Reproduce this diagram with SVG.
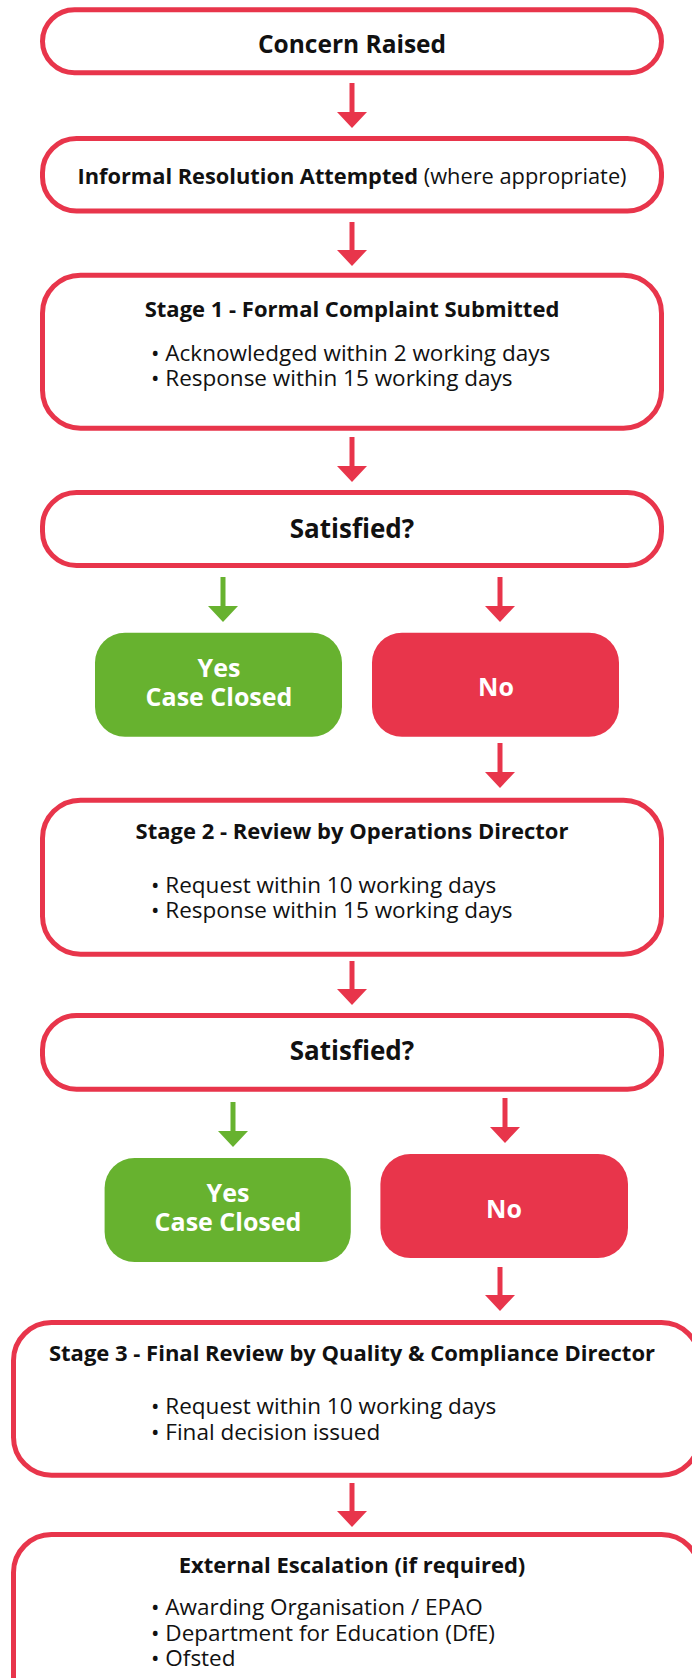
<svg xmlns="http://www.w3.org/2000/svg" width="692" height="1678" viewBox="0 0 692 1678">
<defs>
<style>
.box{fill:#fff;stroke:#E8354B;stroke-width:5}
.yes{fill:#67B22F}
.no{fill:#E8354B}
text{font-family:"Open Sans","Noto Sans",sans-serif;fill:#111}
.t{font-weight:700;font-size:22px;text-anchor:middle}
.s{font-weight:700;font-size:26px;text-anchor:middle}
.b{font-size:22.5px}
.w{fill:#fff;font-weight:700;font-size:25px;text-anchor:middle}
.cr{stroke:#E8354B;stroke-width:5}
.cg{stroke:#67B22F;stroke-width:5}
.hr{fill:#E8354B}
.hg{fill:#67B22F}
</style>
</defs>
<rect width="692" height="1678" fill="#fff"/>
<g id="connectors">
<line class="cr" x1="352" y1="83" x2="352" y2="114"/><polygon class="hr" points="337,112 367,112 352,128"/>
<line class="cr" x1="352" y1="222" x2="352" y2="252"/><polygon class="hr" points="337,250 367,250 352,266"/>
<line class="cr" x1="352" y1="437" x2="352" y2="468"/><polygon class="hr" points="337,466 367,466 352,482"/>
<line class="cg" x1="223" y1="577" x2="223" y2="608"/><polygon class="hg" points="208,606 238,606 223,622"/>
<line class="cr" x1="500" y1="577" x2="500" y2="608"/><polygon class="hr" points="485,606 515,606 500,622"/>
<line class="cr" x1="500" y1="743" x2="500" y2="774"/><polygon class="hr" points="485,772 515,772 500,788"/>
<line class="cr" x1="352" y1="961" x2="352" y2="991"/><polygon class="hr" points="337,989 367,989 352,1005"/>
<line class="cg" x1="233" y1="1102" x2="233" y2="1133"/><polygon class="hg" points="218,1131 248,1131 233,1147"/>
<line class="cr" x1="505" y1="1098" x2="505" y2="1129"/><polygon class="hr" points="490,1127 520,1127 505,1143"/>
<line class="cr" x1="500" y1="1267" x2="500" y2="1297"/><polygon class="hr" points="485,1295 515,1295 500,1311"/>
<line class="cr" x1="352" y1="1483" x2="352" y2="1513"/><polygon class="hr" points="337,1511 367,1511 352,1527"/>
</g>
<g id="concern">
<rect class="box" x="42.5" y="9.8" width="619" height="63" rx="32"/>
<text class="t" x="352" y="52.5" style="font-size:24.5px">Concern Raised</text>
</g>
<g id="informal">
<rect class="box" x="42.5" y="138.5" width="619" height="72.5" rx="34"/>
<text x="352" y="184.3" style="text-anchor:middle;font-size:21.8px"><tspan font-weight="700">Informal Resolution Attempted</tspan> (where appropriate)</text>
</g>
<g id="stage1">
<rect class="box" x="42.5" y="275.2" width="619" height="153" rx="38"/>
<text class="t" x="352" y="317.3">Stage 1 - Formal Complaint Submitted</text>
<text class="b" x="151" y="361">• Acknowledged within 2 working days</text>
<text class="b" x="151" y="386">• Response within 15 working days</text>
</g>
<g id="satisfied1">
<rect class="box" x="42.5" y="492.5" width="619" height="73" rx="34"/>
<text class="s" x="352" y="538.3">Satisfied?</text>
</g>
<g id="yes1">
<rect class="yes" x="95" y="632.7" width="247" height="104" rx="30"/>
<text class="w" x="219" y="676.7">Yes</text>
<text class="w" x="219" y="705.7">Case Closed</text>
</g>
<g id="no1">
<rect class="no" x="372" y="632.7" width="247" height="104" rx="30"/>
<text class="w" x="496" y="696">No</text>
</g>
<g id="stage2">
<rect class="box" x="42.5" y="800.2" width="619" height="154" rx="38"/>
<text class="t" x="352" y="839.3">Stage 2 - Review by Operations Director</text>
<text class="b" x="151" y="892.7">• Request within 10 working days</text>
<text class="b" x="151" y="918.3">• Response within 15 working days</text>
</g>
<g id="satisfied2">
<rect class="box" x="42.5" y="1015.5" width="619" height="73.7" rx="34"/>
<text class="s" x="352" y="1060">Satisfied?</text>
</g>
<g id="yes2">
<rect class="yes" x="104.6" y="1158" width="246.2" height="104" rx="30"/>
<text class="w" x="228" y="1201.7">Yes</text>
<text class="w" x="228" y="1230.7">Case Closed</text>
</g>
<g id="no2">
<rect class="no" x="380.4" y="1154" width="247.6" height="104" rx="30"/>
<text class="w" x="504" y="1217.7">No</text>
</g>
<g id="stage3">
<rect class="box" x="13.5" y="1322.5" width="686" height="152.7" rx="38"/>
<text class="t" x="352" y="1361">Stage 3 - Final Review by Quality &amp; Compliance Director</text>
<text class="b" x="151" y="1414.3">• Request within 10 working days</text>
<text class="b" x="151" y="1440">• Final decision issued</text>
</g>
<g id="external">
<rect class="box" x="13.5" y="1534.5" width="686" height="180" rx="38"/>
<text class="t" x="352" y="1573.3">External Escalation (if required)</text>
<text class="b" x="151" y="1615">• Awarding Organisation / EPAO</text>
<text class="b" x="151" y="1640.7">• Department for Education (DfE)</text>
<text class="b" x="151" y="1666">• Ofsted</text>
</g>
</svg>
